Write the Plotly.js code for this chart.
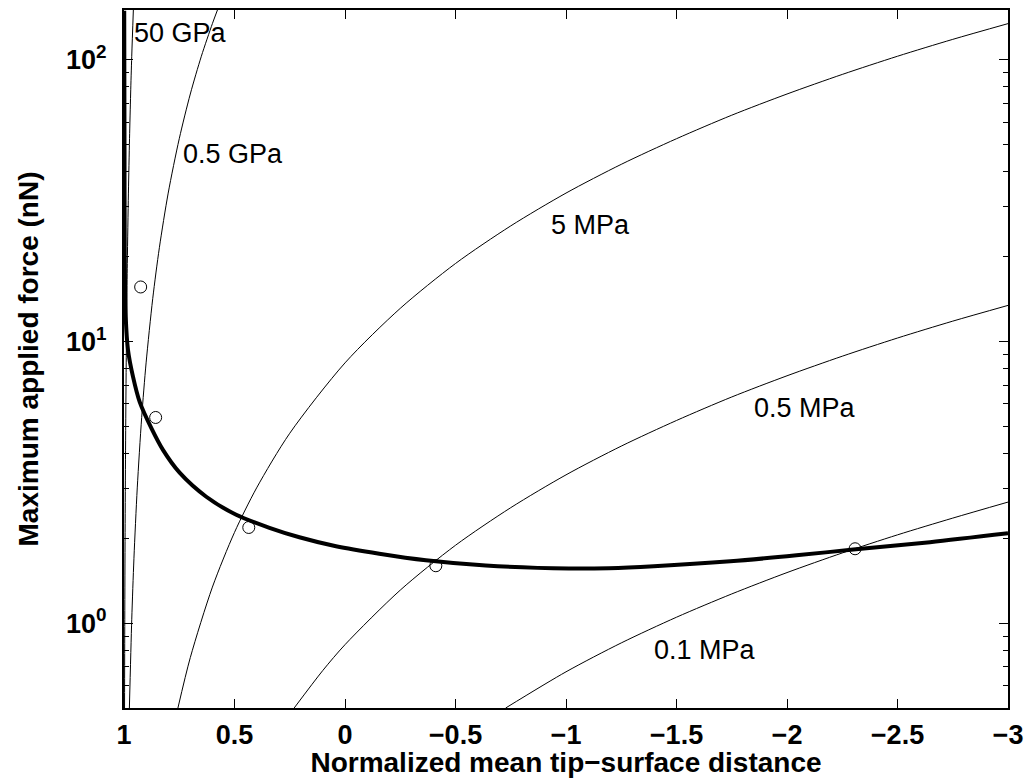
<!DOCTYPE html>
<html>
<head>
<meta charset="utf-8">
<script src="https://cdn.plot.ly/plotly-3.0.1.min.js"></script>
<style>html,body{margin:0;padding:0;background:#fff;}#chart{width:1024px;height:778px;}</style>
</head>
<body>
<div id="chart"></div>
<script>
// Thick curve: maximum applied force vs normalized distance
const fitX = [0.999, 0.9977, 0.9968, 0.9923, 0.9819, 0.9593, 0.9291, 0.8762, 0.8238, 0.7484, 0.6278, 0.4923, 0.3419, 0.2064, 0.0407, -0.155, -0.3658, -0.6369, -1.013, -1.194, -1.397, -1.7435, -2.043, -2.3, -2.647, -3.0];
const fitY = [149, 47.8, 21.1, 12.25, 9.33, 7.50, 6.10, 4.92, 4.12, 3.42, 2.81, 2.425, 2.18, 2.018, 1.875, 1.764, 1.672, 1.602, 1.563, 1.567, 1.592, 1.658, 1.741, 1.825, 1.939, 2.085];

// Thin curves (one per modulus)
const gpa50X = [0.9577, 0.965, 0.97, 0.975, 0.98, 0.985, 0.99, 0.993, 0.995, 0.9965, 0.99756];
const gpa50Y = [150, 102.8, 75.5, 52.4, 33.6, 18.9, 8.39, 4.11, 2.10, 1.028, 0.50];

const gpa05X = [0.5772, 0.6, 0.65, 0.7, 0.75, 0.8, 0.84, 0.87, 0.9, 0.92, 0.94, 0.955, 0.965, 0.9756];
const gpa05Y = [150, 134.2, 102.8, 75.5, 52.4, 33.6, 21.5, 14.18, 8.39, 5.37, 3.02, 1.70, 1.028, 0.50];

const mpa5X = [0.756, 0.7, 0.6, 0.5, 0.4, 0.25, 0, -0.25, -0.5, -0.75, -1, -1.25, -1.5, -1.75, -2, -2.25, -2.5, -2.75, -3];
const mpa5Y = [0.50, 0.755, 1.343, 2.10, 3.02, 4.72, 8.39, 13.1, 18.9, 25.7, 33.6, 42.5, 52.4, 63.5, 75.5, 88.6, 102.8, 118.0, 134.2];

const mpa05X = [0.23, 0.1, 0, -0.25, -0.5, -0.75, -1, -1.25, -1.5, -1.75, -2, -2.25, -2.5, -2.75, -3];
const mpa05Y = [0.50, 0.680, 0.839, 1.31, 1.89, 2.57, 3.36, 4.25, 5.24, 6.35, 7.55, 8.86, 10.28, 11.8, 13.42];

const mpa01X = [-0.727, -1, -1.25, -1.5, -1.75, -2, -2.25, -2.5, -2.75, -3];
const mpa01Y = [0.50, 0.672, 0.851, 1.05, 1.27, 1.512, 1.775, 2.058, 2.36, 2.69];

// Measured points (open circles)
const ptsX = [0.9246, 0.8568, 0.4354, -0.411, -2.308];
const ptsY = [15.6, 5.37, 2.186, 1.599, 1.837];

// Curve labels
const labelText = ["50 GPa", "0.5 GPa", "5 MPa", "0.5 MPa", "0.1 MPa"];
const labelX = [0.962, 0.7407, -0.9228, -1.841, -1.389];
const labelY = [123.8, 46.4, 25.9, 5.79, 0.805];

// Axis ticks
const xTicks = [1, 0.5, 0, -0.5, -1, -1.5, -2, -2.5, -3];
const yTicks = [1, 10, 100];
const yTickText = ["10<sup>0</sup>", "10<sup>1</sup>", "10<sup>2</sup>"];
const yMinor = [0.5, 0.6, 0.7, 0.8, 0.9, 2, 3, 4, 5, 6, 7, 8, 9, 20, 30, 40, 50, 60, 70, 80, 90];

const FONT = "Liberation Sans, Arial, Helvetica, sans-serif";

function thin(x, y) {
  return {x: x, y: y, mode: "lines", line: {color: "black", width: 1, shape: "spline", smoothing: 0.8}, hoverinfo: "skip", showlegend: false};
}

const traces = [
  thin(gpa50X, gpa50Y),
  thin(gpa05X, gpa05Y),
  thin(mpa5X, mpa5Y),
  thin(mpa05X, mpa05Y),
  thin(mpa01X, mpa01Y),
  {x: fitX, y: fitY, mode: "lines", line: {color: "black", width: 4, shape: "spline", smoothing: 0.8}, showlegend: false},
  {x: ptsX, y: ptsY, mode: "markers", marker: {symbol: "circle-open", size: 12, color: "black", line: {width: 1, color: "black"}}, showlegend: false}
];

const annotations = labelText.map((t, i) => ({
  x: labelX[i], y: Math.log10(labelY[i]), xref: "x", yref: "y",
  text: t, showarrow: false, xanchor: "left", yanchor: "middle",
  font: {family: FONT, size: 27, color: "black"}
}));

const layout = {
  width: 1024, height: 778,
  margin: {l: 124, r: 16, t: 10, b: 70},
  paper_bgcolor: "white", plot_bgcolor: "white",
  showlegend: false,
  font: {family: FONT, color: "black"},
  xaxis: {
    range: [1, -3], autorange: false,
    tickmode: "array", tickvals: xTicks,
    ticks: "inside", ticklen: 9, tickwidth: 1, tickcolor: "black",
    showline: true, linecolor: "black", linewidth: 2, mirror: "ticks",
    showgrid: false, zeroline: false,
    tickfont: {family: FONT, size: 27, weight: "bold", color: "black"},
    ticklabelstandoff: 2,
    title: {text: "Normalized mean tip−surface distance", font: {family: FONT, size: 28, weight: "bold", color: "black"}, standoff: 8}
  },
  yaxis: {
    type: "log", range: [Math.log10(0.5), Math.log10(150)], autorange: false,
    tickmode: "array", tickvals: yTicks, ticktext: yTickText,
    ticks: "inside", ticklen: 9, tickwidth: 1, tickcolor: "black",
    minor: {tickmode: "array", tickvals: yMinor, ticks: "inside", ticklen: 5, tickwidth: 1, tickcolor: "black", showgrid: false},
    showline: true, linecolor: "black", linewidth: 2, mirror: "ticks",
    showgrid: false, zeroline: false,
    tickfont: {family: FONT, size: 27, weight: "bold", color: "black"},
    ticklabelstandoff: 10,
    title: {text: "Maximum applied force (nN)", font: {family: FONT, size: 28, weight: "bold", color: "black"}, standoff: 19}
  },
  annotations: annotations
};

Plotly.newPlot("chart", traces, layout, {displayModeBar: false, staticPlot: true});
</script>
</body>
</html>
